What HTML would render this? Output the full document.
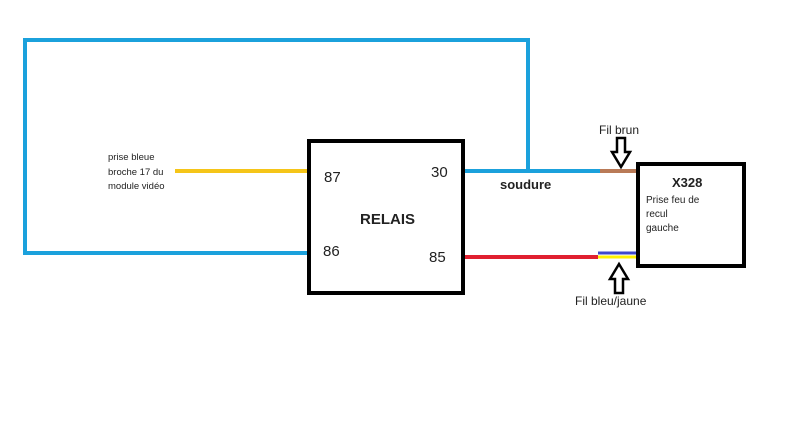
<!DOCTYPE html>
<html><head><style>body{margin:0;background:#fff}svg{display:block}text{font-family:"Liberation Sans",sans-serif}</style></head><body>
<svg width="800" height="424" viewBox="0 0 800 424">
<rect width="800" height="424" fill="#fff"/>
<g fill="none" stroke-width="4">
<polyline points="308,253 25,253 25,40 528,40 528,171" stroke="#1ba1dc"/>
<line x1="464" y1="171" x2="600" y2="171" stroke="#1ba1dc"/>
<line x1="600" y1="171" x2="638" y2="171" stroke="#b97a57"/>
<line x1="175" y1="171" x2="308" y2="171" stroke="#f5c518"/>
<line x1="464" y1="257" x2="598" y2="257" stroke="#e02030"/>
<line x1="598" y1="253" x2="638" y2="253" stroke="#3f48cc" stroke-width="3"/>
<line x1="598" y1="257" x2="638" y2="257" stroke="#fff200" stroke-width="3"/>
<rect x="309" y="141" width="154" height="152" stroke="#000" stroke-width="4"/>
<rect x="638" y="164" width="106" height="102" stroke="#000" stroke-width="4"/>
</g>
<g fill="#fff" stroke="#000" stroke-width="2.5">
<polygon points="617,138 625,138 625,152 630,152 621,167 612,152 617,152"/>
<polygon points="615,293 623,293 623,279 628,279 619,264 610,279 615,279"/>
</g>
<g fill="#222">
<text x="108" y="160" font-size="9.5">prise bleue</text>
<text x="108" y="175" font-size="9.5">broche 17 du</text>
<text x="108" y="189" font-size="9.5">module vidéo</text>
<text x="324" y="182" font-size="15">87</text>
<text x="431" y="177" font-size="15">30</text>
<text x="323" y="256" font-size="15">86</text>
<text x="429" y="262" font-size="15">85</text>
<text x="360" y="224" font-size="15" font-weight="bold">RELAIS</text>
<text x="500" y="189" font-size="13" font-weight="bold">soudure</text>
<text x="599" y="134" font-size="12">Fil brun</text>
<text x="575" y="305" font-size="12">Fil bleu/jaune</text>
<text x="672" y="187" font-size="13" font-weight="bold">X328</text>
<text x="646" y="203" font-size="10">Prise feu de</text>
<text x="646" y="217" font-size="10">recul</text>
<text x="646" y="231" font-size="10">gauche</text>
</g>
</svg>
</body></html>
